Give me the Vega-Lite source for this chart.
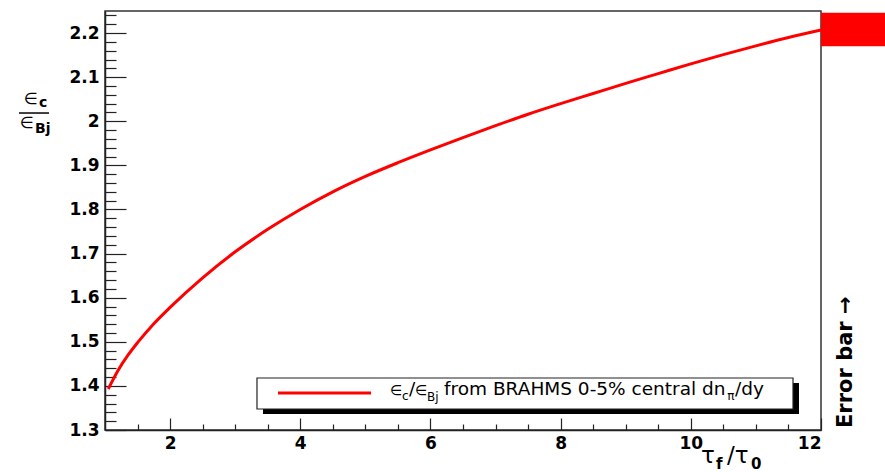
{
  "$schema": "https://vega.github.io/schema/vega-lite/v6.json",
  "width": 716,
  "height": 419,
  "autosize": {"type": "none"},
  "padding": {"left": 105, "top": 11, "right": 64, "bottom": 42},
  "background": "white",
  "data": {"values": [{}]},
  "config": {
    "view": {"stroke": "#333", "strokeWidth": 1.5},
    "axis": {"grid": false, "domainColor": "#222", "domainWidth": 1.5, "tickColor": "#222", "tickWidth": 1.2, "labelColor": "black", "labelFont": "DejaVu Sans", "labelFontWeight": "bold", "labelFontSize": 17}
  },
  "datasets": {
    "curve": [
      {"tau": 1.05, "ratio": 1.393},
      {"tau": 1.2, "ratio": 1.435},
      {"tau": 1.35, "ratio": 1.469},
      {"tau": 1.5, "ratio": 1.498},
      {"tau": 1.75, "ratio": 1.541},
      {"tau": 2.0, "ratio": 1.578},
      {"tau": 2.5, "ratio": 1.645},
      {"tau": 3.0, "ratio": 1.704},
      {"tau": 3.5, "ratio": 1.755},
      {"tau": 4.0, "ratio": 1.8},
      {"tau": 4.5, "ratio": 1.84},
      {"tau": 5.0, "ratio": 1.875},
      {"tau": 5.5, "ratio": 1.906},
      {"tau": 6.0, "ratio": 1.935},
      {"tau": 6.5, "ratio": 1.963},
      {"tau": 7.0, "ratio": 1.99},
      {"tau": 7.5, "ratio": 2.016},
      {"tau": 8.0, "ratio": 2.04},
      {"tau": 8.5, "ratio": 2.063},
      {"tau": 9.0, "ratio": 2.086},
      {"tau": 9.5, "ratio": 2.108},
      {"tau": 10.0, "ratio": 2.13},
      {"tau": 10.5, "ratio": 2.151},
      {"tau": 11.0, "ratio": 2.171},
      {"tau": 11.5, "ratio": 2.19},
      {"tau": 12.0, "ratio": 2.207}
    ],
    "err": [{"lo": 2.17, "hi": 2.246}]
  },
  "layer": [
    {
      "data": {"name": "curve"},
      "mark": {"type": "line", "color": "#ff0000", "strokeWidth": 3, "interpolate": "monotone"},
      "encoding": {
        "x": {"field": "tau", "type": "quantitative", "scale": {"domain": [1, 12], "nice": false, "zero": false},
              "axis": {"title": null, "orient": "bottom", "values": [2, 4, 6, 8, 10, 12], "tickSize": -12, "labelPadding": 17}},
        "y": {"field": "ratio", "type": "quantitative", "scale": {"domain": [1.3, 2.25], "nice": false, "zero": false},
              "axis": {"title": null, "orient": "left", "values": [1.3, 1.4, 1.5, 1.6, 1.7, 1.8, 1.9, 2.0, 2.1, 2.2], "format": ".1~f", "tickSize": -21, "labelPadding": 27}}
      }
    },
    {
      "data": {"name": "err"},
      "mark": {"type": "rect", "color": "#ff0000", "clip": false},
      "encoding": {
        "x": {"datum": 12, "type": "quantitative",
              "axis": {"title": null, "orient": "bottom", "values": [1.5, 2.5, 3, 3.5, 4.5, 5, 5.5, 6.5, 7, 7.5, 8.5, 9, 9.5, 10.5, 11, 11.5], "tickSize": -6, "labels": false, "domain": false}},
        "x2": {"datum": 13},
        "y": {"field": "lo", "type": "quantitative",
              "axis": {"title": null, "orient": "left", "values": [1.32, 1.34, 1.36, 1.38, 1.42, 1.44, 1.46, 1.48, 1.52, 1.54, 1.56, 1.58, 1.62, 1.64, 1.66, 1.68, 1.72, 1.74, 1.76, 1.78, 1.82, 1.84, 1.86, 1.88, 1.92, 1.94, 1.96, 1.98, 2.02, 2.04, 2.06, 2.08, 2.12, 2.14, 2.16, 2.18, 2.22, 2.24], "tickSize": -11, "labels": false, "domain": false}},
        "y2": {"field": "hi"}
      }
    },
    {
      "mark": {"type": "rect", "color": "black", "clip": false},
      "encoding": {
        "x": {"datum": 3.427, "type": "quantitative", "axis": null}, "x2": {"datum": 11.662},
        "y": {"datum": 1.4066, "type": "quantitative", "axis": null}, "y2": {"datum": 1.3363}
      }
    },
    {
      "mark": {"type": "rect", "fill": "white", "stroke": "#222", "strokeWidth": 1.2, "clip": false},
      "encoding": {
        "x": {"datum": 3.335, "type": "quantitative", "axis": null}, "x2": {"datum": 11.57},
        "y": {"datum": 1.4179, "type": "quantitative", "axis": null}, "y2": {"datum": 1.3476}
      }
    },
    {
      "mark": {"type": "rule", "color": "#ff0000", "strokeWidth": 3},
      "encoding": {
        "x": {"datum": 3.658, "type": "quantitative", "axis": null}, "x2": {"datum": 5.087},
        "y": {"datum": 1.3839, "type": "quantitative", "axis": null}
      }
    },
    {"mark": {"type": "text", "text": "∈", "font": "DejaVu Sans", "fontSize": 14, "align": "left", "baseline": "alphabetic", "color": "black"},
     "encoding": {"x": {"datum": 5.379, "type": "quantitative", "axis": null}, "y": {"datum": 1.3793, "type": "quantitative", "axis": null}}},
    {"mark": {"type": "text", "text": "c", "font": "DejaVu Sans", "fontSize": 12, "align": "left", "baseline": "alphabetic", "color": "black"},
     "encoding": {"x": {"datum": 5.563, "type": "quantitative", "axis": null}, "y": {"datum": 1.368, "type": "quantitative", "axis": null}}},
    {"mark": {"type": "text", "text": "/", "font": "DejaVu Sans", "fontSize": 18.5, "align": "left", "baseline": "alphabetic", "color": "black"},
     "encoding": {"x": {"datum": 5.67, "type": "quantitative", "axis": null}, "y": {"datum": 1.3793, "type": "quantitative", "axis": null}}},
    {"mark": {"type": "text", "text": "∈", "font": "DejaVu Sans", "fontSize": 14, "align": "left", "baseline": "alphabetic", "color": "black"},
     "encoding": {"x": {"datum": 5.763, "type": "quantitative", "axis": null}, "y": {"datum": 1.3793, "type": "quantitative", "axis": null}}},
    {"mark": {"type": "text", "text": "Bj", "font": "DejaVu Sans", "fontSize": 12, "align": "left", "baseline": "alphabetic", "color": "black"},
     "encoding": {"x": {"datum": 5.947, "type": "quantitative", "axis": null}, "y": {"datum": 1.3657, "type": "quantitative", "axis": null}}},
    {"mark": {"type": "text", "text": "from BRAHMS 0-5% central dn", "font": "DejaVu Sans", "fontSize": 18.5, "align": "left", "baseline": "alphabetic", "color": "black"},
     "encoding": {"x": {"datum": 6.208, "type": "quantitative", "axis": null}, "y": {"datum": 1.3793, "type": "quantitative", "axis": null}}},
    {"mark": {"type": "text", "text": "π", "font": "DejaVu Sans", "fontSize": 12, "align": "left", "baseline": "alphabetic", "color": "black"},
     "encoding": {"x": {"datum": 10.56, "type": "quantitative", "axis": null}, "y": {"datum": 1.368, "type": "quantitative", "axis": null}}},
    {"mark": {"type": "text", "text": "/dy", "font": "DejaVu Sans", "fontSize": 18.5, "align": "left", "baseline": "alphabetic", "color": "black"},
     "encoding": {"x": {"datum": 10.68, "type": "quantitative", "axis": null}, "y": {"datum": 1.3793, "type": "quantitative", "axis": null}}},
    {"mark": {"type": "text", "text": "∈", "font": "DejaVu Sans", "fontSize": 16, "align": "left", "baseline": "alphabetic", "color": "black"},
     "encoding": {"x": {"datum": -0.244, "type": "quantitative", "axis": null}, "y": {"datum": 2.0391, "type": "quantitative", "axis": null}}},
    {"mark": {"type": "text", "text": "c", "font": "DejaVu Sans", "fontWeight": "bold", "fontSize": 14, "align": "left", "baseline": "alphabetic", "color": "black"},
     "encoding": {"x": {"datum": -0.014, "type": "quantitative", "axis": null}, "y": {"datum": 2.0323, "type": "quantitative", "axis": null}}},
    {"mark": {"type": "rule", "color": "black", "strokeWidth": 1.5, "clip": false},
     "encoding": {"x": {"datum": -0.321, "type": "quantitative", "axis": null}, "x2": {"datum": 0.14}, "y": {"datum": 2.0187, "type": "quantitative", "axis": null}}},
    {"mark": {"type": "text", "text": "∈", "font": "DejaVu Sans", "fontSize": 16, "align": "left", "baseline": "alphabetic", "color": "black"},
     "encoding": {"x": {"datum": -0.306, "type": "quantitative", "axis": null}, "y": {"datum": 1.9847, "type": "quantitative", "axis": null}}},
    {"mark": {"type": "text", "text": "Bj", "font": "DejaVu Sans", "fontWeight": "bold", "fontSize": 14, "align": "left", "baseline": "alphabetic", "color": "black"},
     "encoding": {"x": {"datum": -0.0754, "type": "quantitative", "axis": null}, "y": {"datum": 1.9734, "type": "quantitative", "axis": null}}},
    {"mark": {"type": "text", "text": "τ", "font": "DejaVu Sans", "fontSize": 23, "align": "left", "baseline": "alphabetic", "color": "black"},
     "encoding": {"x": {"datum": 10.157, "type": "quantitative", "axis": null}, "y": {"datum": 1.2252, "type": "quantitative", "axis": null}}},
    {"mark": {"type": "text", "text": "f", "font": "DejaVu Sans", "fontWeight": "bold", "fontSize": 15, "align": "left", "baseline": "alphabetic", "color": "black"},
     "encoding": {"x": {"datum": 10.388, "type": "quantitative", "axis": null}, "y": {"datum": 1.2116, "type": "quantitative", "axis": null}}},
    {"mark": {"type": "text", "text": "/τ", "font": "DejaVu Sans", "fontSize": 23, "align": "left", "baseline": "alphabetic", "color": "black"},
     "encoding": {"x": {"datum": 10.557, "type": "quantitative", "axis": null}, "y": {"datum": 1.2252, "type": "quantitative", "axis": null}}},
    {"mark": {"type": "text", "text": "0", "font": "DejaVu Sans", "fontWeight": "bold", "fontSize": 15, "align": "left", "baseline": "alphabetic", "color": "black"},
     "encoding": {"x": {"datum": 10.925, "type": "quantitative", "axis": null}, "y": {"datum": 1.2116, "type": "quantitative", "axis": null}}},
    {"mark": {"type": "text", "text": "Error bar →", "font": "DejaVu Sans", "fontWeight": "bold", "fontSize": 21, "angle": 270, "align": "left", "baseline": "alphabetic", "color": "black"},
     "encoding": {"x": {"datum": 12.476, "type": "quantitative", "axis": null}, "y": {"datum": 1.3045, "type": "quantitative", "axis": null}}}
  ],
  "resolve": {"axis": {"x": "independent", "y": "independent"}}
}
